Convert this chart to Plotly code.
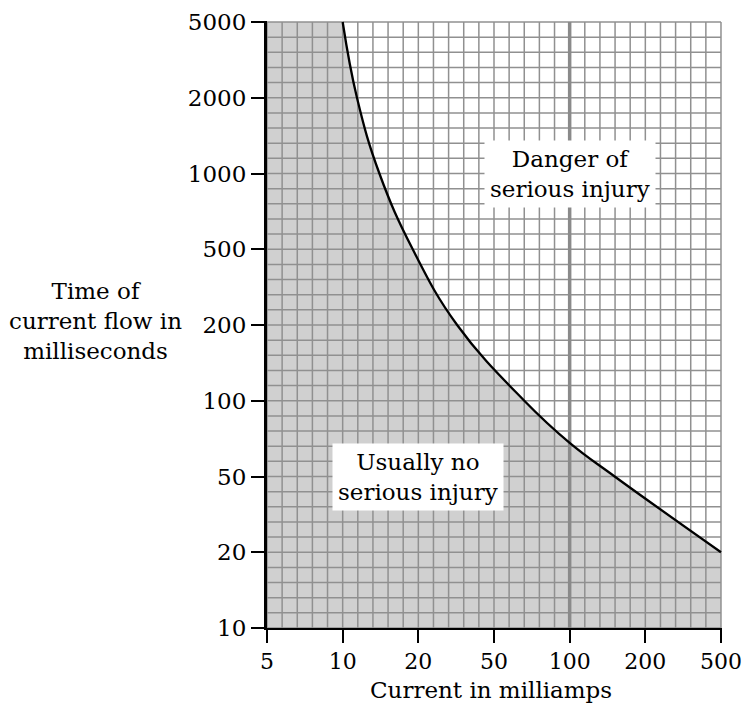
import numpy as np
import plotly.graph_objects as go

# ---- data ----
x_ticks = [5, 10, 20, 50, 100, 200, 500]          # current, mA
y_ticks = [10, 20, 50, 100, 200, 500, 1000, 2000, 5000]  # time, ms
curve_current = [10, 11.4, 14, 19, 32, 66, 100, 151, 500]
curve_time = [5000, 2000, 1000, 500, 200, 100, 68, 50, 20]
safe_label = "Usually no<br>serious injury"
danger_label = "Danger of<br>serious injury"
x_title = "Current in milliamps"
y_title = "Time of<br>current flow in<br>milliseconds"


# 1-2-5 scale: each step 1->2->5->10 gets equal length
def scale_pos(v):
    v = float(v)
    d = np.floor(np.log10(v) + 1e-9)
    m = v / 10 ** d
    if m < 2:
        p = np.log(m) / np.log(2)
    elif m < 5:
        p = 1 + np.log(m / 2) / np.log(2.5)
    else:
        p = 2 + np.log(m / 5) / np.log(2)
    return 3 * d + p


def P(vals):
    return [scale_pos(v) for v in vals]


xt = P(x_ticks)
yt = P(y_ticks)
x0, x1 = xt[0], xt[-1]
y0, y1 = yt[0], yt[-1]

FONT = "DejaVu Serif"
FILL = "#d0d0d0"
GRID = "#909090"

fig = go.Figure()

# shaded "safe" region: strip left of 10 mA + area under the curve
fig.add_trace(go.Scatter(
    x=P([x_ticks[0], curve_current[0], curve_current[0], x_ticks[0]]),
    y=P([y_ticks[0], y_ticks[0], y_ticks[-1], y_ticks[-1]]),
    fill="toself", fillcolor=FILL, mode="none", hoverinfo="skip", showlegend=False))
fig.add_trace(go.Scatter(
    x=P(curve_current), y=P(curve_time), fill="tozeroy", fillcolor=FILL,
    mode="none", line=dict(shape="spline", smoothing=1.2), hoverinfo="skip", showlegend=False))

# graph-paper grid: 5 cells per 1-2-5 step
gx, gy = [], []
for v in np.linspace(x0, x1, int(round((x1 - x0) * 5)) + 1):
    gx += [v, v, None]
    gy += [y0, y1, None]
for v in np.linspace(y0, y1, int(round((y1 - y0) * 5)) + 1):
    gx += [x0, x1, None]
    gy += [v, v, None]
fig.add_trace(go.Scatter(x=gx, y=gy, mode="lines", line=dict(color=GRID, width=1.5),
                         hoverinfo="skip", showlegend=False))
# heavier line at 100 mA
fig.add_trace(go.Scatter(x=P([100, 100]), y=[y0, y1], mode="lines",
                         line=dict(color="#8a8a8a", width=3.5), hoverinfo="skip", showlegend=False))

# boundary curve
fig.add_trace(go.Scatter(x=P(curve_current), y=P(curve_time), mode="lines",
                         line=dict(color="black", width=2.3, shape="spline", smoothing=1.2),
                         hoverinfo="skip", showlegend=False))

tickfont = dict(family=FONT, size=22, color="black")
fig.update_xaxes(range=[x0, x1 + 0.2 / 15], tickvals=xt, ticktext=[str(v) for v in x_ticks],
                 showgrid=False, zeroline=False, showline=True, linecolor="black", linewidth=2,
                 ticks="outside", ticklen=13, tickwidth=2, tickcolor="black", tickfont=tickfont,
                 automargin=False, ticklabeloverflow="allow")
fig.update_yaxes(range=[y0, y1 + 0.2 / 15], tickvals=yt, ticktext=[str(v) for v in y_ticks],
                 showgrid=False, zeroline=False, showline=True, linecolor="black", linewidth=3,
                 ticks="outside", ticklen=13, tickwidth=2, tickcolor="black",
                 tickfont=dict(family=FONT, size=23, color="black"),
                 automargin=False, ticklabeloverflow="allow")

ann_font = dict(family=FONT, size=23, color="black")
fig.add_annotation(x=scale_pos(20), y=scale_pos(50), text=safe_label, showarrow=False,
                   bgcolor="white", borderpad=5, font=ann_font)
fig.add_annotation(x=scale_pos(100), y=scale_pos(1000), text=danger_label, showarrow=False,
                   bgcolor="white", borderpad=5, font=ann_font)
fig.add_annotation(xref="paper", yref="paper", x=0.493, y=-0.102, text=x_title,
                   showarrow=False, font=ann_font, xanchor="center", yanchor="middle")
fig.add_annotation(xref="paper", yref="paper", x=-0.378, y=0.505, text=y_title,
                   showarrow=False, font=ann_font, xanchor="center", yanchor="middle", align="center")

fig.update_layout(width=743, height=707, margin=dict(l=267, r=21, t=21, b=79),
                  plot_bgcolor="white", paper_bgcolor="white", showlegend=False)

# remove the default page margin / scrollbars so the figure fills the window exactly
fig.write_html("out.html", config={"displayModeBar": False},
               post_script="document.body.style.margin='0';document.body.style.overflow='hidden';"
                           "document.documentElement.style.overflow='hidden';")
